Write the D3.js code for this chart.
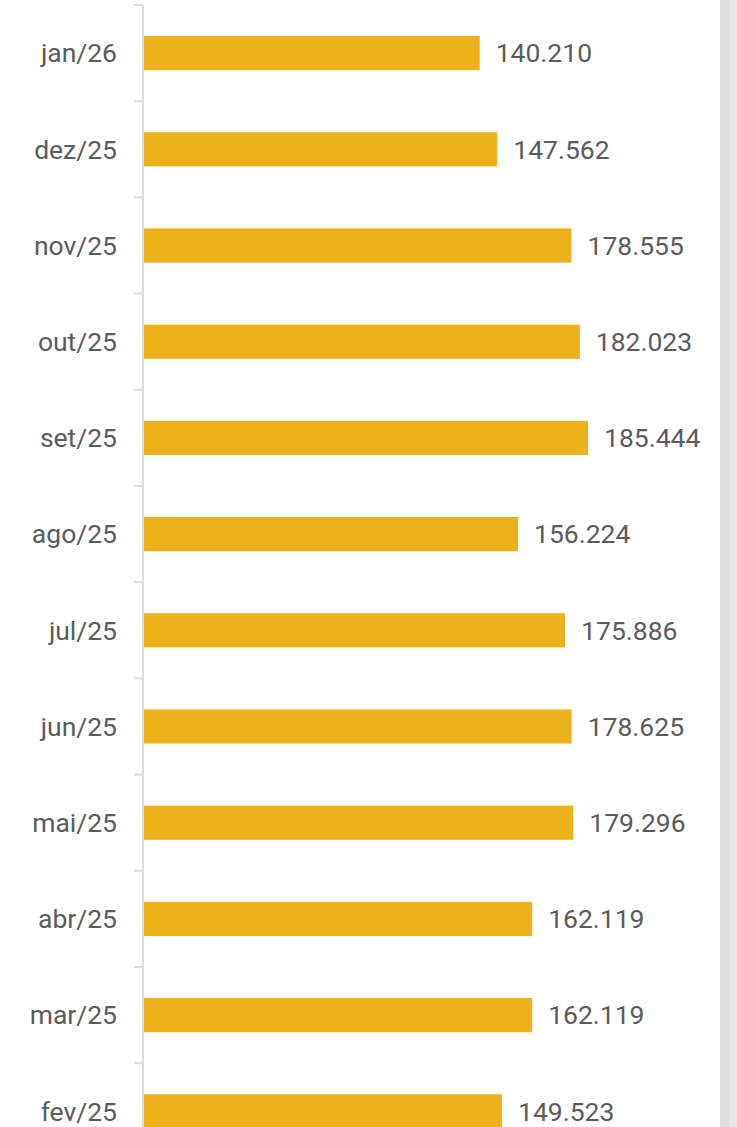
<!DOCTYPE html>
<html>
<head>
<meta charset="utf-8">
<script src="https://cdn.jsdelivr.net/npm/d3@7"></script>
<style>
  html, body { margin: 0; padding: 0; overflow: hidden; background: #fff; }
</style>
</head>
<body>
<script>
let months = ["jan/26", "dez/25", "nov/25", "out/25", "set/25", "ago/25", "jul/25", "jun/25", "mai/25", "abr/25", "mar/25", "fev/25"];
let values = [140210, 147562, 178555, 182023, 185444, 156224, 175886, 178625, 179296, 162119, 162119, 149523];

let width = 737;
let height = 1127;

let svg = d3.select("body").append("svg")
  .attr("width", width)
  .attr("height", height)
  .style("display", "block");

// scrollbar-like strip on the right
svg.append("rect").attr("x", 720).attr("y", 0).attr("width", 10).attr("height", height).attr("fill", "#dfdfdf");
svg.append("rect").attr("x", 730).attr("y", 0).attr("width", 7).attr("height", height).attr("fill", "#e8e8e8");

let chartTop = 5, step = 96.2;
let y = d3.scaleBand()
  .domain(months)
  .range([chartTop, chartTop + step * months.length])
  .paddingInner(0.645)
  .paddingOuter(0.3225);

let x = d3.scaleLinear()
  .domain([0, d3.max(values)])
  .range([144, 588]);

let fmt = d3.formatLocale({decimal: ",", thousands: ".", grouping: [3], currency: ["R$", ""]}).format(",d");

let data = months.map((m, i) => ({month: m, value: values[i]}));

// axis line and boundary ticks
svg.append("line")
  .attr("x1", 143).attr("x2", 143)
  .attr("y1", chartTop).attr("y2", chartTop + step * months.length)
  .attr("stroke", "#dcdcdc").attr("stroke-width", 2);

svg.selectAll(".tick")
  .data(d3.range(months.length + 1))
  .enter()
  .append("line")
  .attr("x1", 134).attr("x2", 143)
  .attr("y1", i => chartTop + i * y.step())
  .attr("y2", i => chartTop + i * y.step())
  .attr("stroke", "#dcdcdc").attr("stroke-width", 2);

svg.selectAll(".bar")
  .data(data)
  .enter()
  .append("rect")
  .attr("x", x(0))
  .attr("y", d => y(d.month))
  .attr("width", d => x(d.value) - x(0))
  .attr("height", y.bandwidth())
  .attr("fill", "#edb11b");

svg.selectAll(".cat")
  .data(data)
  .enter()
  .append("text")
  .attr("x", 117)
  .attr("y", d => y(d.month) + y.bandwidth() / 2)
  .attr("dy", "0.35em")
  .attr("text-anchor", "end")
  .style("font-family", "Roboto")
  .style("font-size", "26.5px")
  .attr("fill", "#5b5b5b")
  .text(d => d.month);

svg.selectAll(".val")
  .data(data)
  .enter()
  .append("text")
  .attr("x", d => x(d.value) + 16)
  .attr("y", d => y(d.month) + y.bandwidth() / 2)
  .attr("dy", "0.35em")
  .style("font-family", "Roboto")
  .style("font-size", "26.5px")
  .attr("fill", "#5b5b5b")
  .text(d => fmt(d.value));
</script>
</body>
</html>
